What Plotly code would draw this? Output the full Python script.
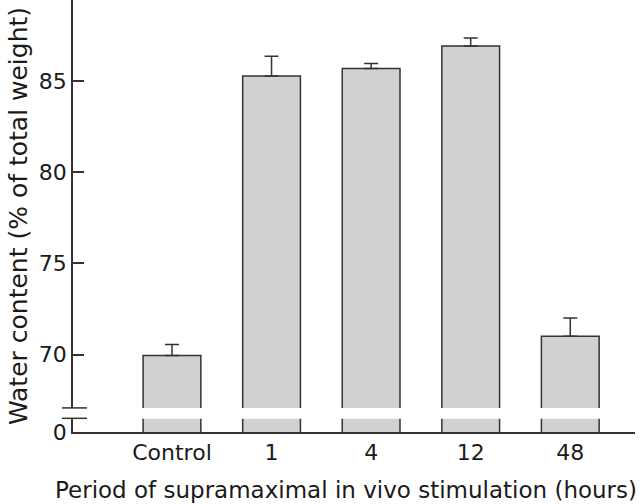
import plotly.graph_objects as go

categories = ["Control", "1", "4", "12", "48"]
water_content = [69.95, 85.27, 85.68, 86.92, 71.0]
error_plus = [0.6, 1.08, 0.28, 0.43, 1.0]
ytick_vals = [65.75, 70, 75, 80, 85]
ytick_text = ["0", "70", "75", "80", "85"]
x_title = "Period of supramaximal in vivo stimulation (hours)"
y_title = "Water content (% of total weight)"

Y_BOTTOM = 65.75
Y_TOP = 89.44
GAP_LOW = 66.47
GAP_HIGH = 67.07

font_family = "'DejaVu Sans', sans-serif"
ink = "#1a1a1a"

fig = go.Figure()
fig.add_trace(go.Bar(
    x=list(range(len(categories))),
    y=water_content,
    width=0.58,
    marker=dict(color="#d1d1d1", line=dict(color="#333333", width=1.5)),
    error_y=dict(type="data", symmetric=False, array=error_plus,
                 arrayminus=[0] * len(error_plus),
                 color="#333333", thickness=1.5, width=7),
))

# white band of the axis break across the bars and the axis line
fig.add_shape(type="rect", xref="paper", yref="y", x0=-0.02, x1=1.0,
              y0=GAP_LOW, y1=GAP_HIGH, fillcolor="white",
              line=dict(width=0), layer="above")
for yb in (GAP_LOW + 0.03, GAP_HIGH):
    fig.add_shape(type="line", xref="paper", yref="y", x0=-0.0196, x1=0.0249,
                  y0=yb, y1=yb, line=dict(color="#333333", width=1.5),
                  layer="above")

fig.add_annotation(text=x_title, xref="paper", yref="paper",
                   x=0.485, y=-0.135, xanchor="center", yanchor="middle",
                   showarrow=False, font=dict(size=23, color=ink))

fig.update_layout(
    width=640, height=504,
    margin=dict(l=73, r=5, t=0, b=72),
    plot_bgcolor="white", paper_bgcolor="white",
    showlegend=False,
    font=dict(family=font_family, size=22, color=ink),
)
fig.update_xaxes(
    range=[-0.994, 4.65],
    tickvals=list(range(len(categories))),
    ticktext=categories,
    showline=True, linecolor="#333333", linewidth=1.5,
    ticks="", showgrid=False, zeroline=False, automargin=False,
    tickfont=dict(size=22),
)
fig.update_yaxes(
    range=[Y_BOTTOM, Y_TOP],
    tickvals=ytick_vals, ticktext=ytick_text,
    showline=True, linecolor="#333333", linewidth=1.5,
    ticks="inside", ticklen=11, tickwidth=1.5, tickcolor="#333333",
    showgrid=False, zeroline=False, automargin=False,
    title=dict(text=y_title, font=dict(size=25), standoff=4),
    tickfont=dict(size=22),
)

fig.write_html("out.html", config={"displayModeBar": False},
               post_script="document.body.style.margin='0px';")
